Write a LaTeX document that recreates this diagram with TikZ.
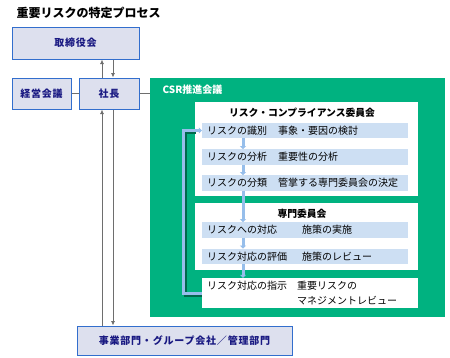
\documentclass[tikz,border=0pt]{standalone}
\usepackage{fontspec}
\setmainfont{Noto Sans CJK JP}
\usetikzlibrary{arrows.meta}
\definecolor{boxfill}{RGB}{221,224,238}
\definecolor{boxline}{RGB}{50,110,205}
\definecolor{navy}{RGB}{25,25,130}
\definecolor{csrgreen}{RGB}{0,178,128}
\definecolor{csrshade}{RGB}{0,105,75}
\definecolor{rowfill}{RGB}{205,223,243}
\definecolor{flowblue}{RGB}{150,190,235}
\definecolor{linkgray}{RGB}{110,110,110}
\begin{document}
\begin{tikzpicture}[x=1pt,y=-1pt,
    orgbox/.style={draw=boxline,line width=1pt,fill=boxfill,inner sep=0pt,text=navy,
      font=\bfseries\fontsize{10}{12}\selectfont\addfontfeature{LetterSpace=8}},
    panel/.style={fill=white,inner sep=0pt,minimum width=223pt},
    rowbar/.style={fill=rowfill,inner xsep=5pt,inner ysep=0pt,text width=196pt,align=left,
      minimum height=15.5pt,font=\fontsize{10}{12}\selectfont},
    paneltitle/.style={font=\bfseries\fontsize{9.8}{12}\selectfont},
    link/.style={draw=linkgray,line width=0.8pt},
    report/.style={link,-{Latex[length=4.5pt,width=4pt]}},
    flow/.style={draw=flowblue,line width=3pt,-{Triangle[length=3pt,width=6pt]}}]
  \useasboundingbox (0,0) rectangle (450,357);
  \node[anchor=west,font=\bfseries\fontsize{12}{14}\selectfont] (title) at (13,13) {重要リスクの特定プロセス};
  \node[orgbox,minimum width=127pt,minimum height=32pt] (board) at (75.5,43) {取締役会};
  \node[orgbox,minimum width=59pt,minimum height=31pt] (mgmt) at (41.5,93.5) {経営会議};
  \node[orgbox,minimum width=60pt,minimum height=31pt] (pres) at (109,93.5) {社長};
  \node[orgbox,minimum width=215pt,minimum height=29pt] (dept) at (184.5,340.5) {事業部門・グループ会社／管理部門};
  \node[fill=csrgreen,inner sep=0pt,minimum width=295pt,minimum height=239pt] (csr) at (297.5,197.5) {};
  \node[anchor=west,text=white,font=\bfseries\fontsize{10}{12}\selectfont] (csrlabel) at (159,90) {CSR推進会議};
  \node[panel,minimum height=94pt] (rc) at (306.5,149) {};
  \node[paneltitle] (rctitle) at (302,113) {リスク・コンプライアンス委員会};
  \node[panel,minimum height=67pt] (sc) at (306.5,236.5) {};
  \node[paneltitle] (sctitle) at (302,214) {専門委員会};
  \node[rowbar] (r1) at (305,130.5) {\makebox[71pt][l]{リスクの識別}事象・要因の検討};
  \node[rowbar] (r2) at (305,157) {\makebox[71pt][l]{リスクの分析}重要性の分析};
  \node[rowbar] (r3) at (305,183) {\makebox[71pt][l]{リスクの分類}管掌する専門委員会の決定};
  \node[rowbar] (r4) at (305,230) {\makebox[95pt][l]{リスクへの対応}施策の実施};
  \node[rowbar] (r5) at (305,256.5) {\makebox[95pt][l]{リスク対応の評価}施策のレビュー};
  \node[rowbar,fill=white,text width=206pt,minimum height=30pt,font=\fontsize{10}{15}\selectfont] (r6) at (310,293)
    {\makebox[90pt][l]{リスク対応の指示}重要リスクの\\\hspace*{90pt}マネジメントレビュー};
  \draw[link] (mgmt.east) -- (pres.west);
  \draw[link] (pres.east) -- (pres.east -| csr.west);
  \draw[report] ([xshift=-7pt]pres.north) -- ([xshift=-7pt]pres.north |- board.south);
  \draw[report] ([xshift=4pt]pres.north |- board.south) -- ([xshift=4pt]pres.north);
  \draw[report] ([xshift=-7pt]pres.south |- dept.north) -- ([xshift=-7pt]pres.south);
  \draw[report] ([xshift=4pt]pres.south) -- ([xshift=4pt]pres.south |- dept.north);
  \draw[flow] ([xshift=-62pt]r1.south) -- ([xshift=-62pt]r2.north);
  \draw[flow] ([xshift=-62pt]r2.south) -- ([xshift=-62pt]r3.north);
  \draw[flow] ([xshift=-62pt]r3.south) -- ([xshift=-62pt]r4.north);
  \draw[flow] ([xshift=-62pt]r4.south) -- ([xshift=-62pt]r5.north);
  \draw[flow] ([xshift=-62pt]r5.south) -- ([xshift=-67pt]r6.north);
  \draw[draw=csrshade,line width=3pt] ([shift={(0pt,-2pt)}]r6.west) -- ++(-16,0) |- ([shift={(-6pt,-2pt)}]r1.west);
  \draw[flow] (r6.west) -- ++(-18,0) |- (r1.west);
\end{tikzpicture}
\end{document}
